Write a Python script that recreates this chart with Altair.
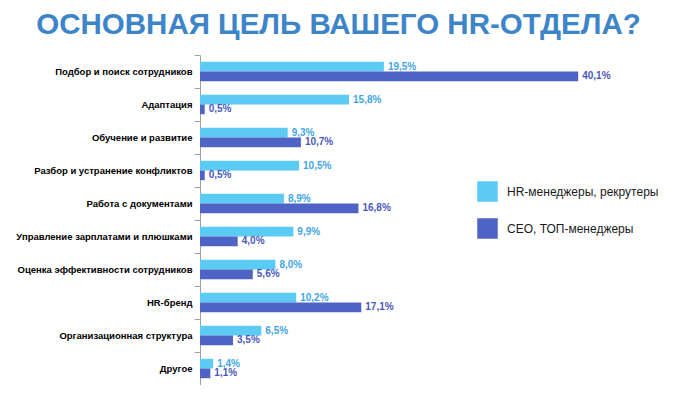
import altair as alt
import pandas as pd

categories = [
    "Подбор и поиск сотрудников",
    "Адаптация",
    "Обучение и развитие",
    "Разбор и устранение конфликтов",
    "Работа с документами",
    "Управление зарплатами и плюшками",
    "Оценка эффективности сотрудников",
    "HR-бренд",
    "Организационная структура",
    "Другое",
]
hr_values = [19.5, 15.8, 9.3, 10.5, 8.9, 9.9, 8.0, 10.2, 6.5, 1.4]
ceo_values = [40.1, 0.5, 10.7, 0.5, 16.8, 4.0, 5.6, 17.1, 3.5, 1.1]
series = ["HR-менеджеры, рекрутеры", "CEO, ТОП-менеджеры"]
colors = ["#5BCBF3", "#4F63C6"]
label_colors = ["#3FA6E6", "#4A58BE"]

rows = []
for c, h, o in zip(categories, hr_values, ceo_values):
    rows.append({"cat": c, "group": series[0], "value": h})
    rows.append({"cat": c, "group": series[1], "value": o})
df = pd.DataFrame(rows)

W = 469
H = 330

base = alt.Chart(df).encode(
    y=alt.Y(
        "cat:N",
        sort=categories,
        title=None,
        scale=alt.Scale(paddingInner=0, paddingOuter=0),
        axis=alt.Axis(
            tickBand="extent",
            domainColor="#A0A0A0",
            tickColor="#A0A0A0",
            tickSize=6,
            labelPadding=2,
            labelFont="Liberation Sans",
            labelFontWeight="bold",
            labelFontSize=9.5,
            labelColor="#000000",
            labelLimit=300,
            grid=False,
        ),
    ),
    yOffset=alt.YOffset(
        "group:N",
        sort=series,
        scale=alt.Scale(paddingInner=0, paddingOuter=0.7),
    ),
    x=alt.X(
        "value:Q",
        scale=alt.Scale(domain=[0, 49.73], nice=False),
        axis=None,
    ),
)

bars = base.mark_bar().encode(
    color=alt.Color(
        "group:N",
        sort=series,
        scale=alt.Scale(domain=series, range=colors),
        legend=alt.Legend(
            title=None,
            orient="none",
            legendX=277,
            legendY=126,
            symbolType="square",
            symbolSize=420,
            symbolStrokeWidth=0,
            labelFont="Liberation Sans",
            labelFontSize=12,
            labelColor="#1A1A1A",
            labelOffset=9,
            rowPadding=16,
        ),
    )
)

labels = base.mark_text(
    align="left", baseline="middle", dx=4, fontSize=10, fontWeight="bold",
    font="Liberation Sans",
).transform_calculate(
    label="replace(format(datum.value, '.1f'), '.', ',') + '%'"
).encode(
    text="label:N",
    color=alt.Color(
        "group:N",
        sort=series,
        scale=alt.Scale(domain=series, range=label_colors),
        legend=None,
    ),
)

chart = (
    alt.layer(bars, labels)
    .resolve_scale(color="independent")
    .properties(
        width=W,
        height=H,
        autosize=alt.AutoSizeParams(type="none"),
        padding={"left": 192, "top": 47, "right": 0, "bottom": 0},
        title=alt.TitleParams(
            "ОСНОВНАЯ ЦЕЛЬ ВАШЕГО HR-ОТДЕЛА?",
            font="'Liberation Sans Narrow', 'Arial Narrow', 'Liberation Sans', sans-serif",
            fontSize=29.5,
            fontWeight="bold",
            color="#3D85C8",
            anchor="middle",
            frame="group",
            dx=-96,
            offset=10,
        ),
    )
    .configure_view(stroke=None)
)

chart.save("out.html", embed_options={"renderer": "svg", "actions": False})
